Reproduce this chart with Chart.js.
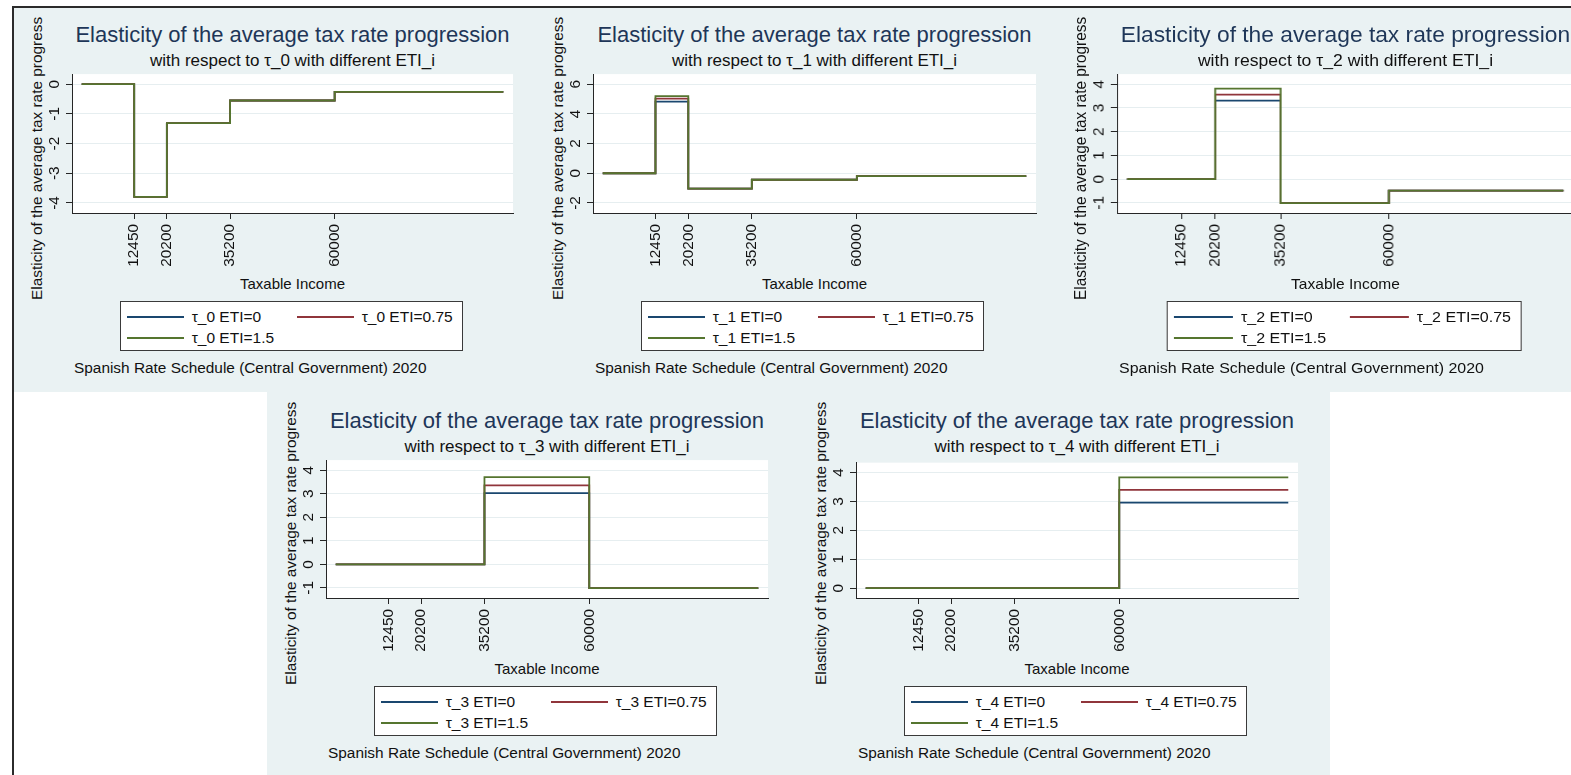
<!DOCTYPE html>
<html>
<head>
<meta charset="utf-8">
<title>Elasticity of the average tax rate progression</title>
<script src="https://cdn.jsdelivr.net/npm/chart.js@4.4.1/dist/chart.umd.min.js"></script>
<style>
  body { margin: 0; width: 1571px; height: 775px; overflow: hidden; background: #fff; position: relative;
         font-family: "Liberation Sans", Arial, sans-serif; color: #111; }
  .abs { position: absolute; }
  .panel { position: absolute; overflow: hidden; }
  .txt { position: absolute; white-space: nowrap; }
  .legend { position: absolute; box-sizing: border-box; border: 1px solid #3a3a3a; background: #fff; }
</style>
</head>
<body>
<div class="abs" style="left:14px;top:8px;width:1557px;height:384px;background:#eaf2f3"></div>
<div class="abs" style="left:267px;top:392px;width:1063px;height:383px;background:#eaf2f3"></div>
<div id="panels"></div>
<div class="abs" style="left:12px;top:6px;width:1559px;height:2px;background:#2b2b2b"></div>
<div class="abs" style="left:12px;top:6px;width:2px;height:769px;background:#2b2b2b"></div>

<script>
// income brackets (start of each step) and the upper end of the plotted range
const incomeBreaks = [0, 12450, 20200, 35200, 60000, 100000];
const xTicks = [12450, 20200, 35200, 60000];
const etiLevels = ["0", "0.75", "1.5"];

// elasticity per bracket, for ETI = 0, 0.75, 1.5
const tau0_eti0  = [0, -3.80, -1.31, -0.55, -0.26];
const tau0_eti075 = [0, -3.80, -1.31, -0.55, -0.26];
const tau0_eti15 = [0, -3.80, -1.31, -0.55, -0.26];

const tau1_eti0  = [0, 4.83, -1.04, -0.44, -0.20];
const tau1_eti075 = [0, 5.03, -1.04, -0.44, -0.20];
const tau1_eti15 = [0, 5.20, -1.04, -0.44, -0.20];

const tau2_eti0  = [0, 0, 3.31, -1.01, -0.49];
const tau2_eti075 = [0, 0, 3.56, -1.01, -0.49];
const tau2_eti15 = [0, 0, 3.82, -1.01, -0.49];

const tau3_eti0  = [0, 0, 0, 3.03, -1.01];
const tau3_eti075 = [0, 0, 0, 3.36, -1.01];
const tau3_eti15 = [0, 0, 0, 3.71, -1.01];

const tau4_eti0  = [0, 0, 0, 0, 2.96];
const tau4_eti075 = [0, 0, 0, 0, 3.40];
const tau4_eti15 = [0, 0, 0, 0, 3.83];

const yTicks0 = [-4, -3, -2, -1, 0];
const yTicks1 = [-2, 0, 2, 4, 6];
const yTicks2 = [-1, 0, 1, 2, 3, 4];
const yTicks3 = [-1, 0, 1, 2, 3, 4];
const yTicks4 = [0, 1, 2, 3, 4];

const seriesColors = ["#1a476f", "#90353b", "#55752f"];
const axisColor = "#262626";
const gridColor = "#e6eef0";
const fontFamily = '"Liberation Sans", Arial, sans-serif';
const tickSize = 15.4;

const panels = [
  { tau: "0", series: [tau0_eti0, tau0_eti075, tau0_eti15], yTicks: yTicks0, yMin: -4.34, yMax: 0.34, left: 72, top: 72, w: 441, h: 141, stretch: 1 },
  { tau: "1", series: [tau1_eti0, tau1_eti075, tau1_eti15], yTicks: yTicks1, yMin: -2.68, yMax: 6.68, left: 593, top: 72, w: 443, h: 141, stretch: 1 },
  { tau: "2", series: [tau2_eti0, tau2_eti075, tau2_eti15], yTicks: yTicks2, yMin: -1.43, yMax: 4.43, left: 1117, top: 72, w: 441.5, h: 141, stretch: 1.035 },
  { tau: "3", series: [tau3_eti0, tau3_eti075, tau3_eti15], yTicks: yTicks3, yMin: -1.43, yMax: 4.43, left: 326, top: 458, w: 442, h: 140, stretch: 1 },
  { tau: "4", series: [tau4_eti0, tau4_eti075, tau4_eti15], yTicks: yTicks4, yMin: -0.34, yMax: 4.34, left: 856, top: 458, w: 442, h: 140, stretch: 1 }
];

const xMin = -2300, xMax = 102300;

// white plot region like Stata's s2color
const whitePlot = {
  id: "whitePlot",
  beforeDraw(chart) {
    const a = chart.chartArea;
    chart.ctx.save();
    chart.ctx.fillStyle = "#fff";
    chart.ctx.fillRect(a.left, a.top, a.right - a.left, a.bottom - a.top);
    chart.ctx.restore();
  }
};

const measure = document.createElement("canvas").getContext("2d");
measure.font = tickSize + "px " + fontFamily;

function addText(parent, text, css) {
  const d = document.createElement("div");
  d.className = "txt";
  d.textContent = text;
  Object.assign(d.style, css);
  parent.appendChild(d);
  return d;
}

function makePanel(p) {
  const L = 40, T = 12, R = 12, B = 70;
  const px = 60, py = 64;
  const box = document.createElement("div");
  box.className = "panel";
  const boxTop = p.top - py;
  box.style.left = (p.left - px) + "px";
  box.style.top = boxTop + "px";
  box.style.width = (p.w + 80) + "px";
  box.style.height = ((p.top < 300 ? 392 : 775) - boxTop) + "px";
  if (p.stretch !== 1) {
    box.style.transform = "scaleX(" + p.stretch + ")";
    box.style.transformOrigin = px + "px 0";
  }
  document.getElementById("panels").appendChild(box);

  addText(box, "Elasticity of the average tax rate progression", {
    left: (px - 20) + "px", width: (p.w + 40) + "px", textAlign: "center", top: (py - 47.9) + "px",
    fontSize: "22px", lineHeight: "22px", color: "#1e3658" });
  addText(box, "with respect to τ_" + p.tau + " with different ETI_i", {
    left: px + "px", width: p.w + "px", textAlign: "center", top: (py - 19.7) + "px",
    fontSize: "17px", lineHeight: "17px" });
  addText(box, "Elasticity of the average tax rate progress", {
    left: (px - 35.3 - 8.5) + "px", top: (py + p.h + 87) + "px", fontSize: "15.4px", lineHeight: "17px",
    transform: "rotate(-90deg)", transformOrigin: "0 0" });
  addText(box, "Taxable Income", {
    left: px + "px", width: p.w + "px", textAlign: "center", top: (py + p.h + 62.6) + "px",
    fontSize: "15px", lineHeight: "15px" });
  addText(box, "Spanish Rate Schedule (Central Government) 2020", {
    left: (px + 2) + "px", top: (py + p.h + 146.8) + "px", fontSize: "15.4px", lineHeight: "15.4px" });

  const leg = document.createElement("div");
  leg.className = "legend";
  Object.assign(leg.style, { left: (px + 48) + "px", top: (py + p.h + 88) + "px", width: "343px", height: "50px" });
  box.appendChild(leg);
  etiLevels.forEach((eti, i) => {
    const col = i % 2, row = Math.floor(i / 2);
    const ln = document.createElement("div");
    Object.assign(ln.style, { position: "absolute", left: (5.7 + col * 170) + "px", top: (13.7 + row * 21.4) + "px",
      width: "57px", height: "2px", background: seriesColors[i] });
    leg.appendChild(ln);
    addText(leg, "τ_" + p.tau + " ETI=" + eti, {
      left: (70.7 + col * 170) + "px", top: (6.8 + row * 21.6) + "px", fontSize: "15.5px", lineHeight: "15.5px" });
  });

  const canvas = document.createElement("canvas");
  canvas.width = L + p.w + R;
  canvas.height = T + p.h + B;
  Object.assign(canvas.style, { position: "absolute", left: (px - L) + "px", top: (py - T) + "px" });
  box.appendChild(canvas);

  const widest = Math.max(...p.yTicks.map(v => measure.measureText(String(v)).width));

  new Chart(canvas, {
    type: "line",
    data: {
      datasets: p.series.map((vals, i) => ({
        label: "τ_" + p.tau + " ETI=" + etiLevels[i],
        data: incomeBreaks.map((x, j) => ({ x: x, y: vals[Math.min(j, vals.length - 1)] })),
        borderColor: seriesColors[i],
        borderWidth: 1.8,
        pointRadius: 0,
        stepped: true,
        order: 2 - i
      }))
    },
    options: {
      responsive: false,
      animation: false,
      layout: { padding: { left: 0, top: T, right: R, bottom: 0 } },
      plugins: { legend: { display: false }, tooltip: { enabled: false } },
      scales: {
        x: {
          type: "linear", min: xMin, max: xMax,
          afterBuildTicks: s => { s.ticks = xTicks.map(v => ({ value: v })); },
          afterFit: s => { s.height = B; },
          grid: { drawOnChartArea: false, tickLength: 6, tickColor: axisColor },
          border: { color: axisColor, width: 1 },
          ticks: { minRotation: 90, maxRotation: 90, autoSkip: false, padding: 5, color: "#111",
                   font: { family: fontFamily, size: tickSize }, callback: v => String(v) }
        },
        y: {
          type: "linear", min: p.yMin, max: p.yMax,
          afterBuildTicks: s => { s.ticks = p.yTicks.map(v => ({ value: v })); },
          afterFit: s => { s.width = L; },
          grid: { color: gridColor, tickLength: 6, tickColor: axisColor },
          border: { color: axisColor, width: 1 },
          ticks: { minRotation: 90, maxRotation: 90, autoSkip: false, crossAlign: "center",
                   padding: 11.7 - widest / 2, color: "#111",
                   font: { family: fontFamily, size: tickSize }, callback: v => String(v) }
        }
      }
    },
    plugins: [whitePlot]
  });
}

panels.forEach(makePanel);
</script>
</body>
</html>
